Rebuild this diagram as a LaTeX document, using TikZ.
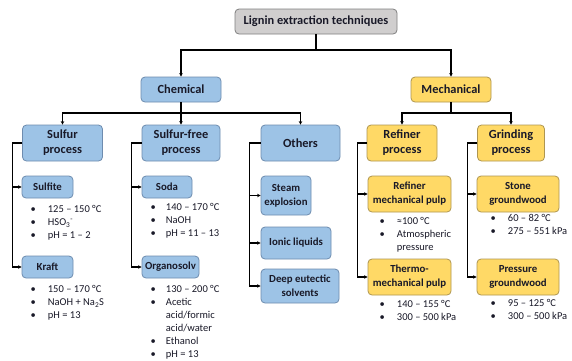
\documentclass[tikz,border=0pt]{standalone}
\usepackage{fontspec}
\setmainfont{Carlito}
\usetikzlibrary{arrows.meta, positioning}

\definecolor{rootfill}{RGB}{208,206,206}
\definecolor{rootline}{RGB}{128,128,128}
\definecolor{chemfill}{RGB}{157,195,230}
\definecolor{chemline}{RGB}{110,140,175}
\definecolor{mechfill}{RGB}{255,217,102}
\definecolor{mechline}{RGB}{175,150,80}
\definecolor{ink}{RGB}{25,25,40}

\tikzset{
  box/.style={draw, rounded corners=4pt, align=center, inner sep=1pt, text=ink, line width=0.8pt},
  big/.style={font=\bfseries\fontsize{12.4}{15}\selectfont},
  small/.style={font=\bfseries\fontsize{10.8}{14}\selectfont},
  root/.style={box, big, fill=rootfill, draw=rootline},
  chem/.style={box, fill=chemfill, draw=chemline},
  mech/.style={box, fill=mechfill, draw=mechline},
  list/.style={anchor=north west, inner sep=0pt, text=ink, font=\fontsize{10.5}{13}\selectfont},
  link/.style={line width=1.2pt, black},
  arr/.style={link, -{Stealth[length=3.5pt,width=3.5pt]}}
}

\begin{document}
\begin{tikzpicture}[x=1pt, y=-1pt]
  \fill[white] (0,0) rectangle (572,360);
  \useasboundingbox (0,0) rectangle (572,360);

  % Top levels
  \node[root, minimum width=162pt, minimum height=25pt] (lignin) at (316,21.5) {Lignin extraction techniques};
  \node[chem, big, minimum width=80pt, minimum height=25pt] (chemical) at (181,89.5) {Chemical};
  \node[mech, big, minimum width=80pt, minimum height=25pt] (mechanical) at (451,89.5) {Mechanical};

  % Process boxes
  \node[chem, big, minimum width=80pt, minimum height=36pt] (sulfur) at (62.5,143) {Sulfur\\process};
  \node[chem, big, minimum width=78pt, minimum height=36pt] (sfree) at (181,143) {Sulfur-free\\process};
  \node[chem, big, minimum width=79pt, minimum height=36pt] (others) at (300.5,143) {Others};
  \node[mech, big, minimum width=70pt, minimum height=36pt] (refiner) at (402,143) {Refiner\\process};
  \node[mech, big, minimum width=67pt, minimum height=36pt] (grinding) at (511,143) {Grinding\\process};

  % Techniques
  \node[chem, small, minimum width=51pt, minimum height=22pt] (sulfite) at (47.5,187) {Sulfite};
  \node[chem, small, minimum width=51pt, minimum height=22pt] (kraft) at (47.5,267) {Kraft};
  \node[chem, small, minimum width=50pt, minimum height=22pt] (soda) at (167,187) {Soda};
  \node[chem, small, minimum width=57pt, minimum height=22pt] (organosolv) at (170.5,267) {Organosolv};
  \node[chem, small, minimum width=50pt, minimum height=39pt] (steam) at (286,195.5) {Steam\\explosion};
  \node[chem, small, minimum width=70pt, minimum height=32pt] (ionic) at (296,243) {Ionic liquids};
  \node[chem, small, minimum width=78pt, minimum height=34pt] (deep) at (300,286) {Deep eutectic\\solvents};
  \node[mech, small, minimum width=83pt, minimum height=36pt] (rmp) at (409.5,194) {Refiner\\mechanical pulp};
  \node[mech, small, minimum width=83pt, minimum height=36pt] (tmp) at (409.5,277) {Thermo-\\mechanical pulp};
  \node[mech, small, minimum width=82pt, minimum height=36pt] (stone) at (518,194) {Stone\\groundwood};
  \node[mech, small, minimum width=82pt, minimum height=36pt] (pressure) at (518,277) {Pressure\\groundwood};

  % Conditions
  \node[list] (sulfiteL) at (30.5,203.5) {\begin{tabular}{@{}l@{\hspace{12pt}}l@{}}
    \textbullet & 125 – 150 °C\\ \textbullet & HSO\textsubscript{3}\textsuperscript{-}\\ \textbullet & pH = 1 – 2\end{tabular}};
  \node[list] (kraftL) at (30.5,283.5) {\begin{tabular}{@{}l@{\hspace{12pt}}l@{}}
    \textbullet & 150 – 170 °C\\ \textbullet & NaOH + Na\textsubscript{2}S\\ \textbullet & pH = 13\end{tabular}};
  \node[list] (sodaL) at (150.5,201.5) {\begin{tabular}{@{}l@{\hspace{10pt}}l@{}}
    \textbullet & 140 – 170 °C\\ \textbullet & NaOH\\ \textbullet & pH = 11 – 13\end{tabular}};
  \node[list] (organosolvL) at (150.5,283.5) {\begin{tabular}{@{}l@{\hspace{10pt}}l@{}}
    \textbullet & 130 – 200 °C\\ \textbullet & Acetic\\ & acid/formic\\ & acid/water\\
    \textbullet & Ethanol\\ \textbullet & pH = 13\end{tabular}};
  \node[list] (rmpL) at (379.5,215.5) {\begin{tabular}{@{}l@{\hspace{12pt}}l@{}}
    \textbullet & ≈100 °C\\ \textbullet & Atmospheric\\ & pressure\end{tabular}};
  \node[list] (tmpL) at (379.5,298.5) {\begin{tabular}{@{}l@{\hspace{12pt}}l@{}}
    \textbullet & 140 – 155 °C\\ \textbullet & 300 – 500 kPa\end{tabular}};
  \node[list] (stoneL) at (490.5,212.5) {\begin{tabular}{@{}l@{\hspace{12pt}}l@{}}
    \textbullet & 60 – 82 °C\\ \textbullet & 275 – 551 kPa\end{tabular}};
  \node[list] (pressureL) at (490.5,297.5) {\begin{tabular}{@{}l@{\hspace{12pt}}l@{}}
    \textbullet & 95 – 125 °C\\ \textbullet & 300 – 500 kPa\end{tabular}};

  % Branches from the top
  \coordinate (top) at (316,50);
  \draw[link] (lignin) -- (top);
  \draw[arr] (top) -| (chemical);
  \draw[arr] (top) -| (mechanical);

  \coordinate (chemsplit) at (181,113);
  \coordinate (mechsplit) at (451,113);
  \draw[arr] (chemical) -- (sfree);
  \draw[arr] (chemsplit) -| (sulfur);
  \draw[arr] (chemsplit) -| (others);
  \draw[link] (mechanical) -- (mechsplit);
  \draw[arr] (mechsplit) -| (refiner);
  \draw[arr] (mechsplit) -| (grinding);

  % Side branches
  \draw[arr] (sulfur.west) -- ++(-10,0) |- (kraft);
  \draw[arr] (sulfur.west) ++(-10,0) |- (sulfite);
  \draw[arr] (sfree.west) -- ++(-10,0) |- (organosolv);
  \draw[arr] (sfree.west) ++(-10,0) |- (soda);
  \draw[arr] (others.west) -- ++(-11,0) |- (deep);
  \draw[arr] (others.west) ++(-11,0) |- (steam);
  \draw[arr] (others.west) ++(-11,0) |- (ionic);
  \draw[arr] (refiner.west) -- ++(-9,0) |- (tmp);
  \draw[arr] (refiner.west) ++(-9,0) |- (rmp);
  \draw[arr] (grinding.west) -- ++(-10,0) |- (pressure);
  \draw[arr] (grinding.west) ++(-10,0) |- (stone);
\end{tikzpicture}
\end{document}
